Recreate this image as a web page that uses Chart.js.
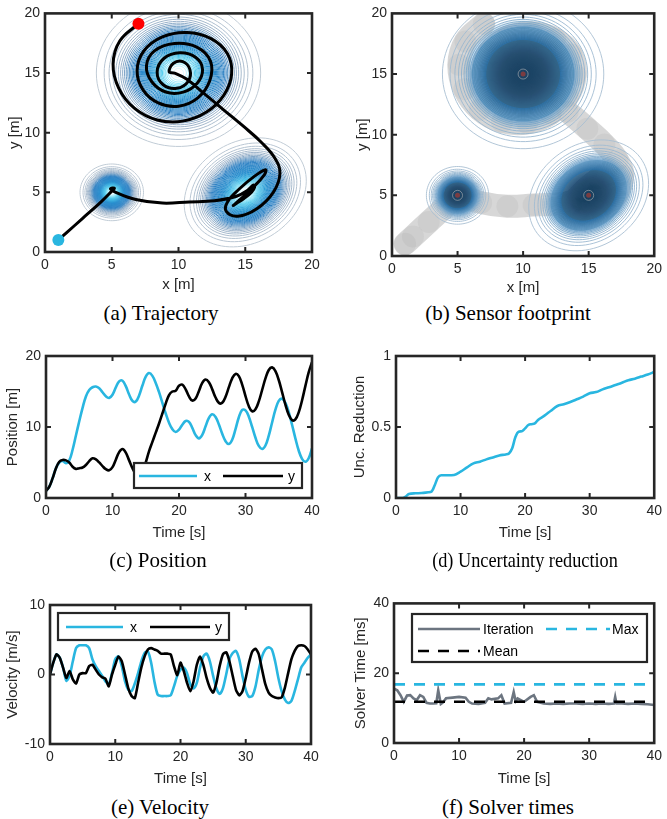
<!DOCTYPE html>
<html>
<head>
<meta charset="utf-8">
<script src="https://cdn.jsdelivr.net/npm/chart.js@4.4.1/dist/chart.umd.min.js"></script>
<style>
body { margin: 0; background: #fff; width: 667px; height: 819px; position: relative; overflow: hidden; }
canvas { position: absolute; }
.cap { position: absolute; width: 300px; text-align: center; font-family: "Liberation Serif", "Times New Roman", serif; font-size: 21px; line-height: 24px; color: #000; white-space: nowrap; }
</style>
</head>
<body>
<canvas id="chart-traj" width="333" height="300" style="left:0;top:0"></canvas>
<canvas id="chart-foot" width="334" height="300" style="left:333px;top:0"></canvas>
<canvas id="chart-pos" width="333" height="210" style="left:0;top:340px"></canvas>
<canvas id="chart-unc" width="334" height="210" style="left:333px;top:340px"></canvas>
<canvas id="chart-vel" width="333" height="200" style="left:0;top:590px"></canvas>
<canvas id="chart-solver" width="334" height="200" style="left:333px;top:590px"></canvas>

<div class="cap" style="left:11px;top:301px">(a) Trajectory</div>
<div class="cap" style="left:358px;top:301px">(b) Sensor footprint</div>
<div class="cap" style="left:8px;top:548px">(c) Position</div>
<div class="cap" style="left:375px;top:548px;transform:scaleX(0.87)">(d) Uncertainty reduction</div>
<div class="cap" style="left:10px;top:795px">(e) Velocity</div>
<div class="cap" style="left:358px;top:795px">(f) Solver times</div>

<script>
// ---- data ----
var timeS = [0, 0.5, 1, 1.5, 2, 2.5, 3, 3.5, 4, 4.5,
    5, 5.5, 6, 6.5, 7, 7.5, 8, 8.5, 9, 9.5,
    10, 10.5, 11, 11.5, 12, 12.5, 13, 13.5, 14, 14.5,
    15, 15.5, 16, 16.5, 17, 17.5, 18, 18.5, 19, 19.5,
    20, 20.5, 21, 21.5, 22, 22.5, 23, 23.5, 24, 24.5,
    25, 25.5, 26, 26.5, 27, 27.5, 28, 28.5, 29, 29.5,
    30, 30.5, 31, 31.5, 32, 32.5, 33, 33.5, 34, 34.5,
    35, 35.5, 36, 36.5, 37, 37.5, 38, 38.5, 39, 39.5, 40];

var posX = [1.0, 1.6, 2.8, 4.2, 5.0, 5.2, 4.9, 5.3, 6.8, 8.8,
    10.8, 12.7, 14.3, 15.2, 15.6, 15.7, 15.47, 14.9, 14.33, 14.1,
    14.55, 15.57, 16.43, 16.52, 15.75, 14.57, 13.67, 13.58, 14.44, 15.84,
    17.1, 17.6, 17.2, 16.2, 14.9, 13.4, 11.9, 10.6, 9.7, 9.3,
    9.62, 10.32, 10.85, 10.73, 9.87, 8.85, 8.4, 8.9, 10.1, 11.3,
    11.8, 11.4, 10.35, 9.05, 8.0, 7.6, 8.2, 9.7, 11.37, 12.4,
    12.34, 11.45, 10.01, 8.48, 7.33, 6.9, 7.4, 8.79, 10.64, 12.44,
    13.67, 13.98, 13.4, 12.1, 10.32, 8.4, 6.69, 5.52, 5.1, 5.6, 7.0];

var posY = [1.0, 1.6, 2.8, 4.2, 5.1, 5.35, 5.3, 5.0, 4.4, 4.1,
    4.2, 4.3, 4.65, 5.2, 5.6, 5.44, 5.01, 4.49, 4.06, 3.9,
    4.34, 5.4, 6.46, 6.9, 6.4, 5.3, 4.2, 3.4, 3.0, 3.6,
    5.0, 6.6, 7.9, 9.2, 10.5, 11.9, 13.3, 14.5, 15.0, 15.1,
    15.82, 15.96, 15.3, 14.31, 13.72, 14.02, 15.08, 16.22, 16.7, 16.3,
    15.3, 14.15, 13.4, 13.41, 14.27, 15.61, 16.86, 17.48, 17.17, 15.98,
    14.35, 12.92, 12.22, 12.5, 13.61, 15.21, 16.85, 18.03, 18.4, 17.88,
    16.62, 14.92, 13.15, 11.73, 10.97, 11.07, 12.06, 13.74, 15.76, 17.69, 19.14];

var velX = [0, 1.7, 2.9, 2.4, 1.0, -0.9, -0.2, 1.9, 3.8, 4.2,
    4.2, 4.2, 3.8, 2.2, 1.2, 0.5, -0.2, -1.0, -1.4, 0.2,
    2.2, 2.6, 1.2, -1.0, -2.2, -2.4, -1.3, 0.2, 1.9, 3.1,
    3.3, 1.7, -1.0, -2.9, -3.1, -3.1, -3.1, -3.0, -1.7, -0.2,
    0.7, 1.0, 0.2, -1.4, -2.0, -1.2, 1.0, 2.6, 3.0, 1.9,
    -0.2, -2.0, -2.8, -2.0, 0, 2.2, 3.1, 3.4, 2.2, -0.2,
    -2.2, -3.2, -3.1, -1.7, 0.7, 2.6, 3.6, 3.9, 3.6, 1.9,
    -0.5, -2.4, -3.6, -4.1, -3.8, -2.4, -0.7, 1.0, 1.7, 2.4, 2.9];

var velY = [0, 1.7, 2.9, 2.4, 1.0, -0.5, 0.5, -0.7, -1.3, 0,
    0.2, 0.2, 1.2, 1.4, 0.7, 0, -0.4, -0.6, -1.7, 0,
    1.4, 2.6, 1.9, 0, -2.0, -3.1, -3.4, -1.2, 1.0, 2.6,
    3.6, 3.8, 3.6, 3.4, 3.0, 3.0, 3.0, 2.9, 1.2, -0.1,
    1.7, 0.5, -1.2, -2.4, -1.0, 1.4, 2.6, 1.4, -0.5, -1.9,
    -2.6, -1.2, 1.2, 2.9, 3.2, 1.9, -0.2, -2.2, -3.0, -2.4,
    -0.5, 1.7, 3.3, 3.7, 2.9, 0.7, -1.4, -2.6, -3.1, -3.3,
    -3.4, -3.3, -1.9, 0.2, 2.2, 3.4, 4.1, 4.2, 4.1, 3.6, 2.9];

var uncTime = [0, 1, 1.5, 2, 3, 4, 5, 5.5, 6, 6.5,
    7, 8, 9, 10, 11, 12, 13, 14, 15, 16,
    17, 17.5, 18, 18.5, 19, 19.5, 20, 20.5, 21, 21.5,
    22, 23, 24, 25, 26, 27, 28, 29, 30, 31,
    32, 33, 34, 35, 36, 37, 38, 39, 40];
var uncValue = [0, 0, 0.01, 0.028, 0.033, 0.035, 0.04, 0.045, 0.09, 0.145,
    0.16, 0.16, 0.162, 0.185, 0.216, 0.244, 0.256, 0.272, 0.286, 0.3,
    0.307, 0.314, 0.35, 0.43, 0.467, 0.47, 0.49, 0.514, 0.52, 0.525,
    0.55, 0.58, 0.615, 0.648, 0.66, 0.676, 0.695, 0.714, 0.737, 0.746,
    0.765, 0.78, 0.796, 0.812, 0.83, 0.84, 0.855, 0.87, 0.887];

var solverTime = [0, 0.5, 1, 1.5, 2, 2.5, 3, 3.5, 4, 4.5,
    5, 5.5, 6, 6.5, 6.8, 7.2, 7.5, 8, 9, 10,
    11, 11.5, 12, 13, 14, 14.5, 15, 16, 16.5, 17,
    18, 18.4, 18.7, 19, 20, 21, 21.5, 22, 23, 24,
    25, 26, 27, 28, 29, 30, 31, 32, 33, 33.8,
    34, 34.2, 35, 36, 37, 38, 39, 40];
var solverIter = [15.6, 15.1, 13.7, 11.8, 13.6, 13.7, 12.8, 12.3, 13.7, 13.2,
    11.5, 11.3, 11.3, 11.4, 15.1, 11.2, 11.6, 12.8, 13.0, 13.2,
    13.0, 11.8, 11.3, 11.2, 11.5, 12.8, 12.5, 12.8, 13.7, 11.3,
    11.5, 14.6, 12.0, 12.8, 11.8, 13.2, 13.7, 11.8, 11.3, 11.2,
    11.3, 11.2, 11.3, 11.3, 11.2, 11.3, 11.2, 11.3, 11.2, 11.3,
    13.2, 11.3, 11.3, 11.2, 11.3, 11.2, 11.1, 10.9];
var solverMax = 16.8;
var solverMean = 11.8;

// uncertainty blobs: centre, spread along/against the main axis, tilt in degrees
var peakX = [10, 5, 15];
var peakY = [15, 5, 5];
var peakSigmaA = [2.2, 0.85, 1.8];
var peakSigmaB = [2.2, 0.85, 1.45];
var peakAngle = [0, 0, 45];

// ---- look ----
var ink = '#262626';
var cyan = '#29b6e0';
var sans = "'Liberation Sans', Arial, Helvetica, sans-serif";
var tickFont = { family: sans, size: 14 };
var titleFont = { family: sans, size: 15 };
var contourLevels = 48;

function toPoints(xs, ys) {
    return xs.map(function (v, i) { return { x: v, y: ys[i] }; });
}

function levelAt(i) {
    return 0.02 + 0.965 * i / (contourLevels - 1);
}

function mixColour(stops, f) {
    for (var i = 1; i < stops.length; i++) {
        if (f <= stops[i][0]) {
            var a = stops[i - 1], b = stops[i];
            var u = (f - a[0]) / (b[0] - a[0]);
            var c = a[1].map(function (v, j) { return Math.round(v + (b[1][j] - v) * u); });
            return 'rgb(' + c.join(',') + ')';
        }
    }
    return 'rgb(' + stops[stops.length - 1][1].join(',') + ')';
}

function ellipsePath(ctx, chart, k, lev) {
    var sx = chart.scales.x, sy = chart.scales.y;
    var r = Math.sqrt(-2 * Math.log(lev));
    var ang = peakAngle[k] * Math.PI / 180;
    ctx.beginPath();
    for (var i = 0; i <= 90; i++) {
        var th = i / 90 * 2 * Math.PI;
        var u = r * peakSigmaA[k] * Math.cos(th), v = r * peakSigmaB[k] * Math.sin(th);
        var px = sx.getPixelForValue(peakX[k] + u * Math.cos(ang) - v * Math.sin(ang));
        var py = sy.getPixelForValue(peakY[k] + u * Math.sin(ang) + v * Math.cos(ang));
        if (i === 0) ctx.moveTo(px, py); else ctx.lineTo(px, py);
    }
    ctx.closePath();
}

// boxed axes with inward ticks on all four sides
var axesFrame = {
    id: 'axesFrame',
    afterDraw: function (chart) {
        var ctx = chart.ctx, a = chart.chartArea, sx = chart.scales.x, sy = chart.scales.y, tl = 5;
        ctx.save();
        ctx.strokeStyle = ink;
        ctx.lineWidth = 2;
        ctx.beginPath();
        sx.ticks.forEach(function (t) {
            if (t.value <= sx.min || t.value >= sx.max) return;
            var px = sx.getPixelForValue(t.value);
            ctx.moveTo(px, a.bottom); ctx.lineTo(px, a.bottom - tl);
            ctx.moveTo(px, a.top); ctx.lineTo(px, a.top + tl);
        });
        sy.ticks.forEach(function (t) {
            if (t.value <= sy.min || t.value >= sy.max) return;
            var py = sy.getPixelForValue(t.value);
            ctx.moveTo(a.left, py); ctx.lineTo(a.left + tl, py);
            ctx.moveTo(a.right, py); ctx.lineTo(a.right - tl, py);
        });
        ctx.stroke();
        ctx.lineWidth = 2.6;
        ctx.strokeRect(a.left, a.top, a.right - a.left, a.bottom - a.top);
        ctx.restore();
    }
};

function boxLegend(frame, items) {
    return {
        id: 'boxLegend',
        afterDraw: function (chart) {
            var ctx = chart.ctx;
            ctx.save();
            ctx.fillStyle = '#fff';
            ctx.fillRect(frame[0], frame[1], frame[2] - frame[0], frame[3] - frame[1]);
            ctx.strokeStyle = ink;
            ctx.lineWidth = 2.2;
            ctx.strokeRect(frame[0], frame[1], frame[2] - frame[0], frame[3] - frame[1]);
            items.forEach(function (it) {
                var ds = chart.data.datasets[it.ds];
                ctx.strokeStyle = ds.borderColor;
                ctx.lineWidth = ds.borderWidth;
                ctx.setLineDash(ds.borderDash || []);
                ctx.beginPath();
                ctx.moveTo(it.x0, it.y);
                ctx.lineTo(it.x1, it.y);
                ctx.stroke();
                ctx.setLineDash([]);
                ctx.fillStyle = '#000';
                ctx.font = '14px ' + sans;
                ctx.textBaseline = 'middle';
                ctx.fillText(ds.label, it.tx, it.y + 1);
            });
            ctx.restore();
        }
    };
}

var trajStops = [[0, [200, 208, 216]], [0.15, [150, 175, 200]], [0.3, [45, 128, 195]],
    [0.6, [35, 140, 205]], [0.85, [70, 200, 235]], [0.95, [150, 235, 250]], [1, [235, 250, 255]]];

var trajContours = {
    id: 'trajContours',
    beforeDatasetsDraw: function (chart) {
        var ctx = chart.ctx, a = chart.chartArea;
        ctx.save();
        ctx.beginPath();
        ctx.rect(a.left, a.top, a.right - a.left, a.bottom - a.top);
        ctx.clip();
        ctx.lineWidth = 1;
        for (var k = 0; k < peakX.length; k++) {
            for (var i = 0; i < contourLevels; i++) {
                var lev = levelAt(i);
                ellipsePath(ctx, chart, k, lev);
                ctx.strokeStyle = mixColour(trajStops, lev);
                ctx.stroke();
            }
        }
        ctx.restore();
    }
};

var footStops = [[0, [175, 195, 212]], [0.2, [110, 160, 200]], [0.45, [40, 110, 165]], [1, [20, 60, 90]]];

var footContours = {
    id: 'footContours',
    afterDatasetsDraw: function (chart) {
        var ctx = chart.ctx, a = chart.chartArea;
        ctx.save();
        ctx.beginPath();
        ctx.rect(a.left, a.top, a.right - a.left, a.bottom - a.top);
        ctx.clip();
        ctx.lineWidth = 0.9;
        for (var k = 0; k < peakX.length; k++) {
            var first = true;
            for (var i = 0; i < contourLevels; i++) {
                var lev = levelAt(i);
                ellipsePath(ctx, chart, k, lev);
                if (lev >= 0.12 && lev < 0.2) {
                    ctx.fillStyle = 'rgba(60,140,195,0.12)';
                    ctx.fill();
                } else if (lev >= 0.2) {
                    ctx.fillStyle = first ? 'rgba(35,115,170,0.6)' : 'rgba(8,35,55,0.035)';
                    ctx.fill();
                    first = false;
                }
                if (lev < 0.45) {
                    ctx.strokeStyle = mixColour(footStops, lev);
                    ctx.stroke();
                }
            }
            var cx = chart.scales.x.getPixelForValue(peakX[k]);
            var cy = chart.scales.y.getPixelForValue(peakY[k]);
            ctx.strokeStyle = 'rgba(190,190,190,0.6)';
            ctx.beginPath(); ctx.arc(cx, cy, 5, 0, 2 * Math.PI); ctx.stroke();
            ctx.fillStyle = 'rgba(140,60,60,0.85)';
            ctx.beginPath(); ctx.arc(cx, cy, 2.5, 0, 2 * Math.PI); ctx.fill();
        }
        ctx.restore();
    }
};

function plainNumber(v) {
    return String(Math.round(v * 100) / 100);
}

function makeOptions(box, xr, yr, xTitle, yTitle) {
    return {
        responsive: false,
        animation: false,
        events: [],
        layout: { padding: { left: 0, top: box.areaT, right: box.w - box.areaR, bottom: 0 } },
        plugins: { legend: { display: false }, tooltip: { enabled: false } },
        scales: {
            x: {
                type: 'linear', min: xr[0], max: xr[1],
                grid: { display: false, drawTicks: false },
                border: { display: false },
                ticks: { stepSize: xr[2], autoSkip: false, maxRotation: 0, color: ink, font: tickFont, padding: 5, callback: plainNumber },
                title: { display: true, text: xTitle, color: ink, font: titleFont, padding: { top: 0, bottom: box.xPad } },
                afterFit: function (s) { s.height = box.h - box.areaB; }
            },
            y: {
                type: 'linear', min: yr[0], max: yr[1],
                grid: { display: false, drawTicks: false },
                border: { display: false },
                ticks: { stepSize: yr[2], autoSkip: false, color: ink, font: tickFont, padding: 5, callback: plainNumber },
                title: { display: true, text: yTitle, color: ink, font: titleFont, padding: { top: box.yPad, bottom: 0 } },
                afterFit: function (s) { s.width = box.areaL; }
            }
        }
    };
}

// (a) trajectory
new Chart(document.getElementById('chart-traj'), {
    type: 'scatter',
    data: {
        datasets: [{
            data: [{ x: posX[posX.length - 1], y: posY[posY.length - 1] }],
            pointRadius: 6, pointBackgroundColor: '#ff0000', pointBorderWidth: 0
        }, {
            data: [{ x: posX[0], y: posY[0] }],
            pointRadius: 6, pointBackgroundColor: cyan, pointBorderWidth: 0
        }, {
            data: toPoints(posX, posY),
            showLine: true, borderColor: '#000', borderWidth: 3, tension: 0.4, pointRadius: 0
        }]
    },
    options: makeOptions({ w: 333, h: 300, areaL: 45, areaT: 10, areaR: 312, areaB: 252, yPad: 6, xPad: 6 },
        [0, 20, 5], [0, 20, 5], 'x [m]', 'y [m]'),
    plugins: [trajContours, axesFrame]
});

// (b) sensor footprint
new Chart(document.getElementById('chart-foot'), {
    type: 'scatter',
    data: {
        datasets: [{
            data: toPoints(posX, posY),
            showLine: true, borderColor: 'rgba(150,150,150,0.38)', borderWidth: 23,
            borderCapStyle: 'round', borderJoinStyle: 'round', tension: 0.4,
            pointRadius: 11, pointBackgroundColor: 'rgba(105,105,105,0.08)', pointBorderWidth: 0, clip: 0
        }]
    },
    options: makeOptions({ w: 334, h: 300, areaL: 59, areaT: 10, areaR: 325, areaB: 256, yPad: 21, xPad: 3 },
        [0, 20, 5], [0, 20, 5], 'x [m]', 'y [m]'),
    plugins: [footContours, axesFrame]
});

// (c) position
new Chart(document.getElementById('chart-pos'), {
    type: 'scatter',
    data: {
        datasets: [{
            label: 'x', data: toPoints(timeS, posX), order: 1,
            showLine: true, borderColor: cyan, borderWidth: 2.6, tension: 0.4, pointRadius: 0
        }, {
            label: 'y', data: toPoints(timeS, posY), order: 0,
            showLine: true, borderColor: '#000', borderWidth: 2.6, tension: 0.4, pointRadius: 0
        }]
    },
    options: makeOptions({ w: 333, h: 210, areaL: 46, areaT: 16, areaR: 312, areaB: 158, yPad: 4, xPad: 8 },
        [0, 40, 10], [0, 20, 10], 'Time [s]', 'Position [m]'),
    plugins: [axesFrame, boxLegend([134, 123, 302, 148], [
        { ds: 0, x0: 139, x1: 197, tx: 204, y: 136 },
        { ds: 1, x0: 223, x1: 283, tx: 288, y: 136 }
    ])]
});

// (d) uncertainty reduction
new Chart(document.getElementById('chart-unc'), {
    type: 'scatter',
    data: {
        datasets: [{
            data: toPoints(uncTime, uncValue),
            showLine: true, borderColor: cyan, borderWidth: 2.6, cubicInterpolationMode: 'monotone', pointRadius: 0
        }]
    },
    options: makeOptions({ w: 334, h: 210, areaL: 63, areaT: 16, areaR: 325, areaB: 158, yPad: 18, xPad: 8 },
        [0, 40, 10], [0, 1, 0.5], 'Time [s]', 'Unc. Reduction'),
    plugins: [axesFrame]
});

// (e) velocity
new Chart(document.getElementById('chart-vel'), {
    type: 'scatter',
    data: {
        datasets: [{
            label: 'x', data: toPoints(timeS, velX), order: 1,
            showLine: true, borderColor: cyan, borderWidth: 2.6, tension: 0.25, pointRadius: 0
        }, {
            label: 'y', data: toPoints(timeS, velY), order: 0,
            showLine: true, borderColor: '#000', borderWidth: 2.6, tension: 0.2, pointRadius: 0
        }]
    },
    options: makeOptions({ w: 333, h: 200, areaL: 50, areaT: 15, areaR: 311, areaB: 154, yPad: 4, xPad: 2 },
        [0, 40, 10], [-10, 10, 10], 'Time [s]', 'Velocity [m/s]'),
    plugins: [axesFrame, boxLegend([58, 23, 229, 50], [
        { ds: 0, x0: 66, x1: 123, tx: 130, y: 37 },
        { ds: 1, x0: 150, x1: 210, tx: 215, y: 37 }
    ])]
});

// (f) solver times
new Chart(document.getElementById('chart-solver'), {
    type: 'scatter',
    data: {
        datasets: [{
            label: 'Iteration', data: toPoints(solverTime, solverIter), order: 2,
            showLine: true, borderColor: '#6c7580', borderWidth: 2.6, pointRadius: 0
        }, {
            label: 'Max', data: [{ x: 0, y: solverMax }, { x: 40, y: solverMax }], order: 1,
            showLine: true, borderColor: cyan, borderWidth: 2.6, borderDash: [11, 9], pointRadius: 0
        }, {
            label: 'Mean', data: [{ x: 0, y: solverMean }, { x: 40, y: solverMean }], order: 0,
            showLine: true, borderColor: '#000', borderWidth: 2.6, borderDash: [11, 9], pointRadius: 0
        }]
    },
    options: makeOptions({ w: 334, h: 200, areaL: 61, areaT: 13, areaR: 325, areaB: 153, yPad: 19, xPad: 2 },
        [0, 40, 10], [0, 40, 20], 'Time [s]', 'Solver Time [ms]'),
    plugins: [axesFrame, boxLegend([79, 24, 314, 72], [
        { ds: 0, x0: 85, x1: 147, tx: 150, y: 39 },
        { ds: 1, x0: 213, x1: 277, tx: 279, y: 39 },
        { ds: 2, x0: 85, x1: 147, tx: 150, y: 61 }
    ])]
});
</script>
</body>
</html>
